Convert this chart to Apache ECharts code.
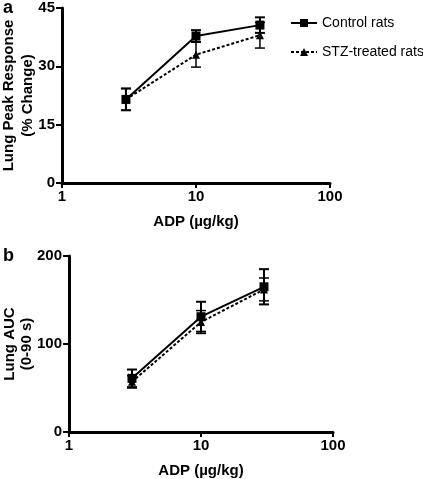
<!DOCTYPE html>
<html><head><meta charset="utf-8">
<script src="https://cdn.jsdelivr.net/npm/echarts@6/dist/echarts.min.js"></script>
<style>html,body{margin:0;padding:0;background:#fff}#c{width:423px;height:479px}</style>
</head><body><div id="c"></div>
<script>
const doses = [3, 10, 30];
const peakControl = [21.5, 37.8, 40.6];
const peakControlErr = [2.8, 1.5, 2.0];
const peakSTZ = [21.5, 33.0, 38.0];
const peakSTZErr = [2.8, 3.2, 3.3];
const aucControl = [61, 131, 165];
const aucControlErr = [10, 17, 20];
const aucSTZ = [57, 125, 162];
const aucSTZErr = [7, 13, 13];
const seriesNames = ['Control rats', 'STZ-treated rats'];

const FONT = 'Liberation Sans, Arial, sans-serif';
const chart = echarts.init(document.getElementById('c'));

function errSeries(vals, errs, xi, yi, lw) {
  return {
    type: 'custom', xAxisIndex: xi, yAxisIndex: yi, silent: true, z: 3,
    data: doses.map((d, i) => [d, vals[i] - errs[i], vals[i] + errs[i]]),
    renderItem: function (params, api) {
      const lo = api.coord([api.value(0), api.value(1)]);
      const hi = api.coord([api.value(0), api.value(2)]);
      const w = 5;
      const st = { stroke: '#000', lineWidth: lw };
      return { type: 'group', children: [
        { type: 'line', shape: { x1: lo[0], y1: lo[1], x2: hi[0], y2: hi[1] }, style: st },
        { type: 'line', shape: { x1: lo[0] - w, y1: lo[1], x2: lo[0] + w, y2: lo[1] }, style: st },
        { type: 'line', shape: { x1: hi[0] - w, y1: hi[1], x2: hi[0] + w, y2: hi[1] }, style: st }
      ]};
    }
  };
}

function xAx(gi) {
  return {
    type: 'log', logBase: 10, min: 1, max: 100, gridIndex: gi,
    name: 'ADP (µg/kg)', nameLocation: 'middle', nameGap: 31, nameMoveOverlap: false,
    nameTextStyle: { fontFamily: FONT, fontWeight: 'bold', fontSize: 15, color: '#000' },
    axisLine: { lineStyle: { color: '#000', width: 3 } },
    axisTick: { lineStyle: { color: '#000', width: 2 }, length: 5 },
    minorTick: { show: false }, splitLine: { show: false },
    axisLabel: { fontFamily: FONT, fontWeight: 'bold', fontSize: 15, color: '#000', margin: 6 }
  };
}
function yAx(gi, max, interval, name, gap, lh) {
  return {
    type: 'value', min: 0, max: max, interval: interval, gridIndex: gi,
    name: name, nameLocation: 'middle', nameGap: gap, nameRotate: 90, nameMoveOverlap: false,
    nameTextStyle: { fontFamily: FONT, fontWeight: 'bold', fontSize: 15, color: '#000', lineHeight: lh },
    axisLine: { show: true, lineStyle: { color: '#000', width: 3 } },
    axisTick: { show: true, lineStyle: { color: '#000', width: 2 }, length: 6 },
    splitLine: { show: false },
    axisLabel: { fontFamily: FONT, fontWeight: 'bold', fontSize: 15, color: '#000', margin: 7 }
  };
}

function lineSeries(name, data, xi, yi, dashed, symbol) {
  return {
    name: name, type: 'line', xAxisIndex: xi, yAxisIndex: yi, z: 4,
    data: doses.map((d, i) => [d, data[i]]),
    symbol: symbol, symbolSize: symbol === 'rect' ? 9 : 8,
    itemStyle: { color: '#000' },
    lineStyle: { color: '#000', width: 2, type: dashed ? [3, 2] : 'solid' }
  };
}

chart.setOption({
  animation: false,
  graphic: [
    { type: 'text', left: 3, top: -1, style: { text: 'a', font: 'bold 18px ' + FONT, fill: '#000' } },
    { type: 'text', left: 3, top: 247, style: { text: 'b', font: 'bold 18px ' + FONT, fill: '#000' } }
  ],
  legend: {
    orient: 'vertical', left: 285, top: 11, itemGap: 15, itemWidth: 26, itemHeight: 10,
    textStyle: { fontFamily: FONT, fontSize: 14, color: '#000' },
    data: seriesNames
  },
  grid: [
    { left: 62, width: 268, top: 8, height: 175, outerBoundsMode: 'none', containLabel: false },
    { left: 69, width: 264, top: 256, height: 176, outerBoundsMode: 'none', containLabel: false }
  ],
  xAxis: [xAx(0), xAx(1)],
  yAxis: [
    yAx(0, 45, 15, 'Lung Peak Response\n(% Change)', 25, 19),
    yAx(1, 200, 100, 'Lung AUC\n(0-90 s)', 34, 17)
  ],
  series: [
    errSeries(peakControl, peakControlErr, 0, 0, 2),
    errSeries(peakSTZ, peakSTZErr, 0, 0, 1.5),
    errSeries(aucControl, aucControlErr, 1, 1, 2),
    errSeries(aucSTZ, aucSTZErr, 1, 1, 1.5),
    lineSeries(seriesNames[0], peakControl, 0, 0, false, 'rect'),
    lineSeries(seriesNames[1], peakSTZ, 0, 0, true, 'triangle'),
    lineSeries(seriesNames[0], aucControl, 1, 1, false, 'rect'),
    lineSeries(seriesNames[1], aucSTZ, 1, 1, true, 'triangle')
  ]
});
</script></body></html>
